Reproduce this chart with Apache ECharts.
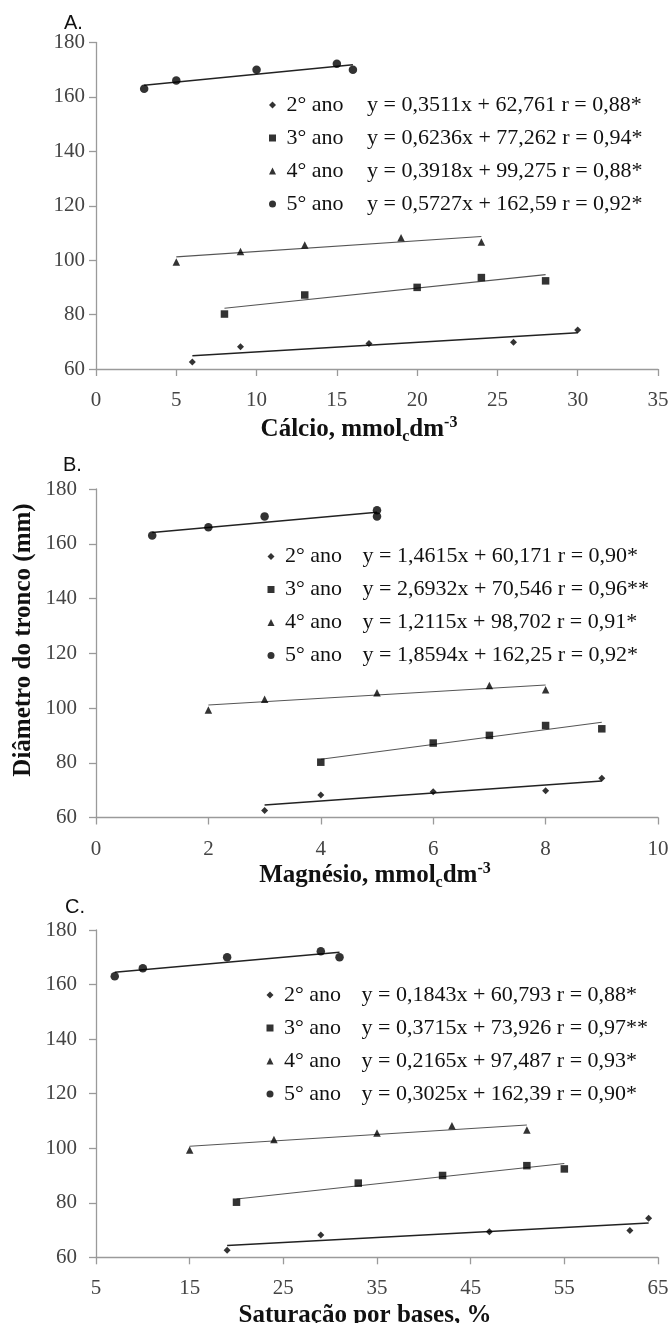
<!DOCTYPE html>
<html><head><meta charset="utf-8">
<script src="https://cdn.jsdelivr.net/npm/echarts@6/dist/echarts.min.js"></script>
<style>
html,body{margin:0;padding:0;background:#fff}
#c{width:670px;height:1323px}
</style>
</head><body><div id="c"></div>
<script>
// ---- data ----
const years = ['2° ano', '3° ano', '4° ano', '5° ano'];
const symbols = ['diamond', 'rect', 'triangle', 'circle'];
const yTicks = [60, 80, 100, 120, 140, 160, 180];

// trunk diameter (mm) for each year (same trees in every panel)
const diam2 = [62.6, 68.2, 69.4, 69.8, 74.3];
const diam3 = [80.2, 87.2, 90.0, 93.6, 92.4];
const diam4 = [99.3, 103.2, 105.6, 108.2, 106.7];
const diam5 = [163.0, 166.0, 170.0, 172.2, 170.0];

// A. Cálcio (mmolc dm-3)
const ca2 = [6, 9, 17, 26, 30];
const ca3 = [8, 13, 20, 24, 28];
const ca4 = [5, 9, 13, 19, 24];
const ca5 = [3, 5, 10, 15, 16];
const caTrend2 = [[6, 64.9], [30, 73.3]];
const caTrend3 = [[8, 82.3], [28, 94.7]];
const caTrend4 = [[5, 101.2], [24, 108.7]];
const caTrend5 = [[3, 164.3], [16, 171.8]];
const caEq = ['y = 0,3511x + 62,761 r = 0,88*', 'y = 0,6236x + 77,262 r = 0,94*',
              'y = 0,3918x + 99,275 r = 0,88*', 'y = 0,5727x + 162,59 r = 0,92*'];

// B. Magnésio (mmolc dm-3)
const mg2 = [3, 4, 6, 8, 9];
const mg3 = [4, 6, 7, 8, 9];
const mg4 = [2, 3, 5, 7, 8];
const mg5 = [1, 2, 3, 5, 5];
const mgTrend2 = [[3, 64.6], [9, 73.3]];
const mgTrend3 = [[4, 81.3], [9, 94.8]];
const mgTrend4 = [[2, 101.1], [8, 108.4]];
const mgTrend5 = [[1, 164.1], [5, 171.5]];
const mgEq = ['y = 1,4615x + 60,171 r = 0,90*', 'y = 2,6932x + 70,546 r = 0,96**',
              'y = 1,2115x + 98,702 r = 0,91*', 'y = 1,8594x + 162,25 r = 0,92*'];

// C. Saturação por bases (%)
const v2 = [19, 29, 47, 62, 64];
const v3 = [20, 33, 42, 51, 55];
const v4 = [15, 24, 35, 43, 51];
const v5 = [7, 10, 19, 29, 31];
const vTrend2 = [[19, 64.3], [64, 72.6]];
const vTrend3 = [[20, 81.4], [55, 94.4]];
const vTrend4 = [[15, 100.7], [51, 108.5]];
const vTrend5 = [[7, 164.5], [31, 171.8]];
const vEq = ['y = 0,1843x + 60,793 r = 0,88*', 'y = 0,3715x + 73,926 r = 0,97**',
             'y = 0,2165x + 97,487 r = 0,93*', 'y = 0,3025x + 162,39 r = 0,90*'];

const xTicksA = [0, 5, 10, 15, 20, 25, 30, 35];
const xTicksB = [0, 2, 4, 6, 8, 10];
const xTicksC = [5, 15, 25, 35, 45, 55, 65];

// ---- build ----
const SERIF = 'Liberation Serif';
const SANS = 'Liberation Sans';
const diams = [diam2, diam3, diam4, diam5];
const panels = [
  {xs: [ca2, ca3, ca4, ca5], trends: [caTrend2, caTrend3, caTrend4, caTrend5], eq: caEq, ticks: xTicksA,
   name: 'Cálcio, mmol{sub|c}dm{sup|-3}', top: 42.5, height: 326.5, ylm: 11, shift: -18, gap: 46,
   lgLeft: 269, lgTop: 94, nameW: 86, label: 'A.', labY: 24, labX: 64},
  {xs: [mg2, mg3, mg4, mg5], trends: [mgTrend2, mgTrend3, mgTrend4, mgTrend5], eq: mgEq, ticks: xTicksB,
   name: 'Magnésio, mmol{sub|c}dm{sup|-3}', top: 489, height: 328.5, ylm: 19, shift: -2, gap: 43,
   lgLeft: 267.5, lgTop: 545.5, nameW: 83, label: 'B.', labY: 466, labX: 63},
  {xs: [v2, v3, v4, v5], trends: [vTrend2, vTrend3, vTrend4, vTrend5], eq: vEq, ticks: xTicksC,
   name: 'Saturação por bases, %', top: 930, height: 327.3, ylm: 19, shift: -12, gap: 42,
   lgLeft: 266.5, lgTop: 984, nameW: 83, label: 'C.', labY: 908, labX: 65}
];

const grid = [], xAxis = [], yAxis = [], series = [], legend = [], graphic = [];
const axisCol = '#9a9a9a';
panels.forEach((p, i) => {
  grid.push({left: 96, width: 562, top: p.top, height: p.height, containLabel: false, outerBoundsMode: 'none'});
  const t = p.ticks;
  xAxis.push({
    type: 'value', gridIndex: i, min: t[0], max: t[t.length - 1], interval: t[1] - t[0],
    axisLine: {onZero: false, lineStyle: {color: axisCol, width: 1.3}},
    axisTick: {show: true, length: 7, lineStyle: {color: axisCol, width: 1.3}},
    splitLine: {show: false},
    axisLabel: {fontFamily: SERIF, fontSize: 21, color: '#444', margin: 21},
    name: p.name, nameLocation: 'middle', nameGap: p.gap,
    nameTextStyle: {
      fontFamily: SERIF, fontSize: 25, fontWeight: 'bold', color: '#111', lineHeight: 30,
      padding: [0, -2 * p.shift, 0, 0],
      rich: {
        sub: {fontFamily: SERIF, fontSize: 16, fontWeight: 'bold', color: '#111', lineHeight: 13, verticalAlign: 'bottom'},
        sup: {fontFamily: SERIF, fontSize: 16, fontWeight: 'bold', color: '#111', lineHeight: 13, verticalAlign: 'top'}
      }
    }
  });
  yAxis.push({
    type: 'value', gridIndex: i, min: yTicks[0], max: yTicks[yTicks.length - 1], interval: yTicks[1] - yTicks[0],
    axisLine: {show: true, onZero: false, lineStyle: {color: axisCol, width: 1.3}},
    axisTick: {show: true, length: 7, lineStyle: {color: axisCol, width: 1.3}},
    splitLine: {show: false},
    axisLabel: {fontFamily: SERIF, fontSize: 21, color: '#444', margin: p.ylm}
  });
  years.forEach((yr, k) => {
    series.push({
      type: 'line', xAxisIndex: i, yAxisIndex: i, name: 'trend', data: p.trends[k],
      symbol: 'none', silent: true, z: 1,
      lineStyle: {color: (k === 0 || k === 3) ? '#222' : '#555', width: (k === 0 || k === 3) ? 1.5 : 1.1}
    });
    series.push({
      type: 'scatter', xAxisIndex: i, yAxisIndex: i, name: yr,
      data: p.xs[k].map((x, j) => [x, diams[k][j]]),
      symbol: symbols[k], symbolSize: [7, 7.5, 7.5, 8.5][k], z: 3,
      itemStyle: {color: '#000'}
    });
  });
  legend.push({
    data: years, orient: 'vertical', left: p.lgLeft, top: p.lgTop,
    itemWidth: 7, itemHeight: 7, itemGap: 11, selectedMode: false, padding: 0,
    formatter: name => '{n| ' + name + '}{e|' + p.eq[years.indexOf(name)] + '}',
    textStyle: {
      fontFamily: SERIF, fontSize: 22, color: '#111', lineHeight: 22,
      rich: {
        n: {fontFamily: SERIF, fontSize: 22, color: '#111', width: p.nameW, lineHeight: 22},
        e: {fontFamily: SERIF, fontSize: 22, color: '#111', lineHeight: 22}
      }
    }
  });
  graphic.push({
    type: 'text', left: p.labX, top: p.labY - 11,
    style: {text: p.label, fontFamily: SANS, fontSize: 20, fill: '#111'}
  });
});
graphic.push({
  type: 'text', x: 24, y: 640, rotation: Math.PI / 2,
  style: {text: 'Diâmetro do tronco (mm)', fontFamily: SERIF, fontSize: 25, fontWeight: 'bold',
          fill: '#111', align: 'center', verticalAlign: 'middle'}
});

const chart = echarts.init(document.getElementById('c'), null, {renderer: 'canvas'});
chart.setOption({
  backgroundColor: '#fff', animation: false,
  textStyle: {fontFamily: SERIF},
  grid, xAxis, yAxis, series, legend, graphic
});
</script></body></html>
